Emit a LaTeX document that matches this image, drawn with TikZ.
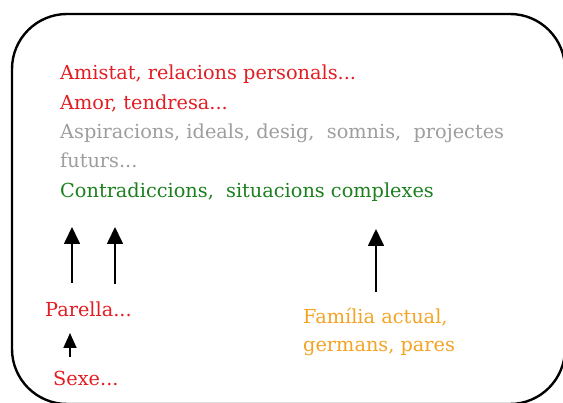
\documentclass[tikz,border=0pt]{standalone}
\usepackage{fontspec}
\setmainfont{DejaVu Serif}
\usetikzlibrary{arrows.meta}
\definecolor{cred}{RGB}{226,30,36}
\definecolor{cgray}{RGB}{158,158,158}
\definecolor{cgreen}{RGB}{28,128,30}
\definecolor{corange}{RGB}{244,164,36}
\tikzset{
  txt/.style={anchor=base west, inner sep=0pt, font=\fontsize{19.3}{22}\selectfont},
  uparrow/.style={line width=1.7pt, -{Triangle[width=16pt,length=17pt]}},
  smallarrow/.style={line width=1.7pt, -{Triangle[width=13pt,length=15pt]}},
}
\begin{document}
\begin{tikzpicture}[x=1pt,y=-1pt]
\useasboundingbox (0,0) rectangle (563,403);
\clip (0,0) rectangle (563,403);
\fill[white] (0,0) rectangle (563,403);
\draw[line width=2.4pt, rounded corners=55pt] (12,14) rectangle (565,404);
\node[txt, text=cred] (l1) at (60,80) {Amistat, relacions personals...};
\node[txt, text=cred] (l2) at (60,109.5) {Amor, tendresa...};
\node[txt, text=cgray] (l3) at (60,139) {Aspiracions, ideals, desig,\ \ somnis,\ \ projectes};
\node[txt, text=cgray] (l4) at (60,168) {futurs...};
\node[txt, text=cgreen] (l5) at (60,197.5) {Contradiccions,\ \ situacions complexes};
\node[txt, text=cred] (par) at (45,317) {Parella...};
\node[txt, text=cred] (sex) at (53,386) {Sexe...};
\node[txt, text=corange] (fam1) at (303,324) {Família actual,};
\node[txt, text=corange] (fam2) at (303,352) {germans, pares};
\coordinate (a1s) at (72,283);
\coordinate (a1e) at (72,227);
\coordinate (a2s) at (115,284);
\coordinate (a2e) at (115,227);
\coordinate (a3s) at (376,292);
\coordinate (a3e) at (376,229);
\coordinate (a4s) at (70,357);
\coordinate (a4e) at (70,333);
\draw[uparrow] (a1s) -- (a1e);
\draw[uparrow] (a2s) -- (a2e);
\draw[uparrow] (a3s) -- (a3e);
\draw[smallarrow] (a4s) -- (a4e);
\end{tikzpicture}
\end{document}
